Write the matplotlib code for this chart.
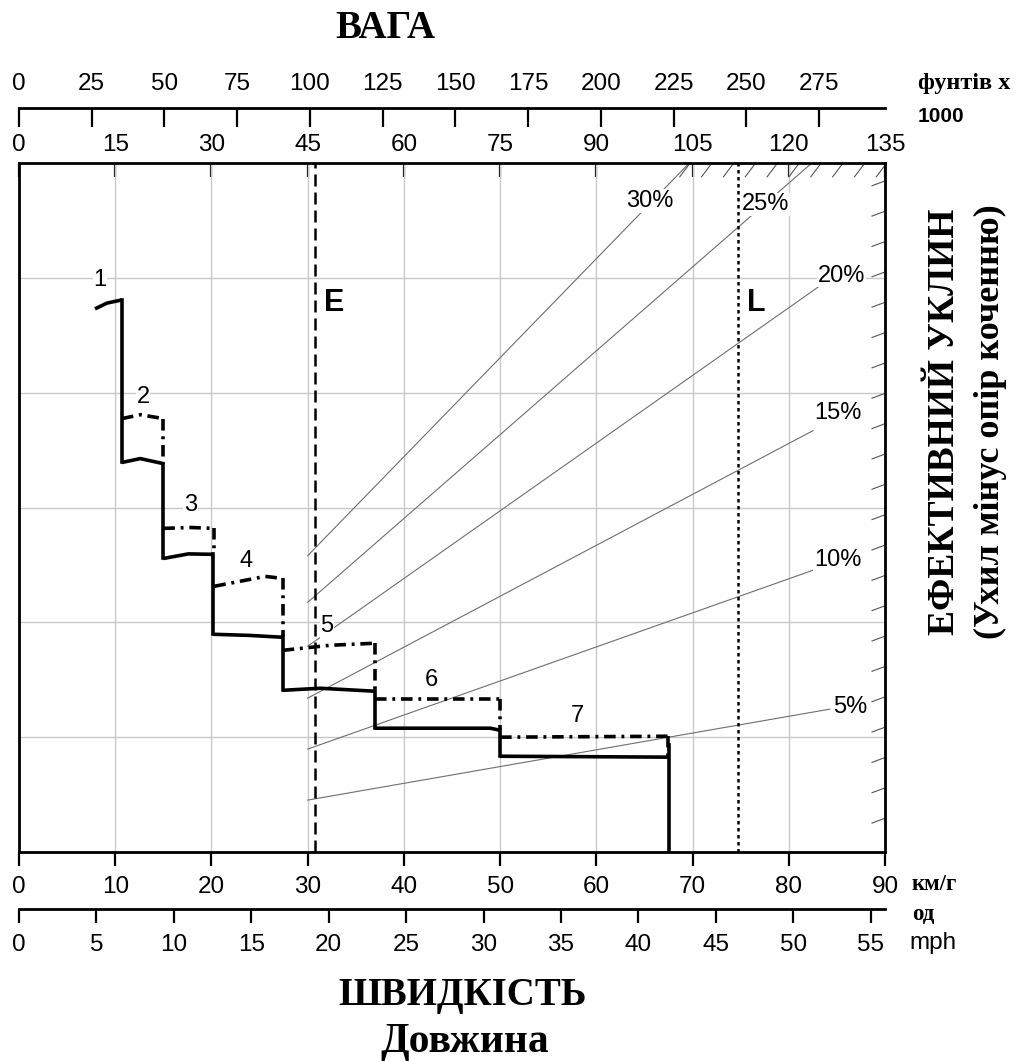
import numpy as np
import matplotlib.pyplot as plt

plt.rcParams['font.family'] = ['Liberation Sans', 'DejaVu Sans']

# scale conversions of the nomogram
KMH_PER_TONNE = 90 / 135
LB_PER_KG = 2.20462
KMH_PER_MPH = 1.609344

# gear curves: x in km/h, y = rimpull (tonnes)
gear_names = ['1', '2', '3', '4', '5', '6', '7']
solid_x = [[7.9, 9.15, 10.7], [10.7, 12.6, 15.0], [15.0, 17.6, 20.2], [20.2, 24.0, 27.4],
           [27.4, 31.3, 37.0], [37.0, 49.0, 50.0], [50.0, 59.0, 67.5]]
solid_y = [[23.65, 23.9, 24.04], [16.96, 17.13, 16.91], [12.78, 12.98, 12.96], [9.48, 9.43, 9.35],
           [7.04, 7.13, 7.0], [5.39, 5.39, 5.3], [4.17, 4.15, 4.13]]
dash_x = [None, [10.7, 12.6, 15.0], [15.0, 17.8, 20.3], [20.3, 23.5, 25.6, 27.4],
          [27.4, 32.3, 37.0], [37.0, 50.0], [50.0, 67.4]]
dash_y = [None, [18.87, 19.04, 18.87], [14.09, 14.13, 14.09], [11.57, 11.83, 12.0, 11.91],
          [8.78, 9.0, 9.09], [6.65, 6.65], [5.0, 5.04]]
gear_lx = [8.4, 12.9, 17.8, 23.6, 32.0, 42.9, 58.0]
gear_ly = [24.9, 19.8, 15.1, 12.65, 9.83, 7.48, 5.91]
last_drop_top = 4.65

# grade lines, weight in tonnes
grades = ['5%', '10%', '15%', '20%', '25%', '30%']
grade_w0 = [45, 45, 45, 45, 45, 45]
grade_w1 = [126.4, 124.6, 123.8, 125.3, 123.6, 104.5]
grade_y0 = [2.26, 4.48, 6.70, 8.96, 10.87, 12.9]
grade_y1 = [6.22, 12.35, 18.35, 24.74, 30.0, 30.0]
grade_lx = [86.4, 85.1, 85.1, 85.5, 77.6, 65.6]
grade_ly = [6.3, 12.7, 19.1, 25.1, 28.2, 28.35]

# E / L limits (km/h)
e_speed = 30.76
l_speed = 74.7

W, H = 1019, 1061
fig = plt.figure(figsize=(W / 100, H / 100), dpi=100)
L, R, T, B = 19, 885, 163, 852
ax = fig.add_axes([L / W, 1 - B / H, (R - L) / W, (B - T) / H])
ax.set_xlim(0, 90)
ax.set_ylim(0, 30)

ax.set_xticks(np.arange(0, 91, 10))
ax.set_yticks(np.arange(0, 31, 5))
ax.grid(True, color='#c8c8c8', lw=1.0, zorder=0)
ax.tick_params(axis='x', direction='out', length=10, width=1.6, labelsize=17.5, pad=7)
ax.tick_params(axis='y', length=0, labelleft=False)
for s in ax.spines.values():
    s.set_linewidth(2.0)

# top scales: tonnes on the frame, pounds above
sec_t = ax.secondary_xaxis('top', functions=(lambda x: x / KMH_PER_TONNE, lambda t: t * KMH_PER_TONNE))
sec_t.set_xticks(np.arange(0, 136, 15))
sec_t.tick_params(direction='in', length=10, width=1.6, labelsize=17.5, pad=5)

lb_loc = (B - 108) / (B - T)
sec_lb = ax.secondary_xaxis(lb_loc, functions=(lambda x: x / KMH_PER_TONNE * LB_PER_KG,
                                               lambda p: p / LB_PER_KG * KMH_PER_TONNE))
sec_lb.set_xticks(np.arange(0, 276, 25))
sec_lb.tick_params(direction='in', length=14, width=1.6, labelsize=17.5, pad=9)
for s in sec_lb.spines.values():
    s.set_linewidth(2.0)

mph_loc = -(909 - B) / (B - T)
sec_mph = ax.secondary_xaxis(mph_loc, functions=(lambda x: x / KMH_PER_MPH, lambda m: m * KMH_PER_MPH))
sec_mph.set_xticks(np.arange(0, 56, 5))
sec_mph.tick_params(direction='out', length=10, width=1.6, labelsize=17.5, pad=8)
for s in sec_mph.spines.values():
    s.set_linewidth(2.0)

# grade lines
for g, w0, w1, y0, y1, lx, ly in zip(grades, grade_w0, grade_w1, grade_y0, grade_y1, grade_lx, grade_ly):
    ax.plot([w0 * KMH_PER_TONNE, w1 * KMH_PER_TONNE], [y0, y1], color='#6e6e6e', lw=0.8, zorder=2)
    ax.text(lx, ly, g, fontsize=17, ha='center', va='center', zorder=4,
            bbox=dict(facecolor='white', edgecolor='none', pad=0.5))

# gear curves
dd = (0, (3.2, 1.6, 0.8, 1.6))
for i in range(len(gear_names)):
    ax.plot(solid_x[i], solid_y[i], color='black', lw=2.6, zorder=5, solid_capstyle='butt')
    if dash_x[i] is not None:
        ax.plot(dash_x[i], dash_y[i], color='black', lw=2.6, ls=dd, zorder=5)
        # dash-dot drop to the solid curve
        ax.plot([dash_x[i][-1], dash_x[i][-1]], [dash_y[i][-1], solid_y[i][-1]],
                color='black', lw=2.6, ls=dd, zorder=5)
    if i + 1 < len(gear_names):
        ax.plot([solid_x[i][-1], solid_x[i][-1]], [solid_y[i][-1], solid_y[i + 1][0]],
                color='black', lw=2.6, zorder=5)
    else:
        ax.plot([solid_x[i][-1], solid_x[i][-1]], [last_drop_top, 0], color='black', lw=2.6, zorder=5)
    ax.text(gear_lx[i], gear_ly[i], gear_names[i], fontsize=17, ha='center', va='center', zorder=4,
            bbox=dict(facecolor='white', edgecolor='none', pad=0.5))

# E and L limits
ax.axvline(e_speed, color='black', lw=1.8, ls=(0, (4.8, 2.4)), zorder=6)
ax.axvline(l_speed, color='black', lw=1.8, ls=(0, (1.4, 1.4)), zorder=6)
ax.text(e_speed + 0.9, 23.9, 'E', fontsize=22, fontweight='bold', ha='left', va='center')
ax.text(l_speed + 1.0, 23.9, 'L', fontsize=22, fontweight='bold', ha='left', va='center')

# hatched limit along top and right edge
for xa in np.linspace(0.763, 0.99, 10):
    ax.plot([xa, xa + 0.012], [0.98, 1.0], transform=ax.transAxes, color='#555555', lw=0.8, clip_on=False)
for ya in np.linspace(0.042, 0.967, 22):
    ax.plot([0.985, 1.0], [ya, ya + 0.007], transform=ax.transAxes, color='#555555', lw=0.8, clip_on=False)

# titles and unit labels
serif = ['Liberation Serif', 'DejaVu Serif']
fig.text(385 / W, 1 - 28 / H, 'ВАГА', family=serif, fontweight='bold', fontsize=28, ha='center', va='center')
fig.text(918 / W, 1 - 84 / H, 'фунтів x', family=serif, fontweight='bold', fontsize=17.5, ha='left', va='center')
fig.text(918 / W, 1 - 117 / H, '1000', fontweight='bold', fontsize=15, ha='left', va='center')
fig.text(912 / W, 1 - 885 / H, 'км/г', family=serif, fontweight='bold', fontsize=16.5, ha='left', va='center')
fig.text(912 / W, 1 - 914 / H, 'од', family=serif, fontweight='bold', fontsize=16.5, ha='left', va='center')
fig.text(909 / W, 1 - 943 / H, 'mph', fontsize=17.5, ha='left', va='center')
fig.text(463 / W, 1 - 995 / H, 'ШВИДКІСТЬ', family=serif, fontweight='bold', fontsize=28, ha='center', va='center')
fig.text(465 / W, 1 - 1042 / H, 'Довжина', family=serif, fontweight='bold', fontsize=30, ha='center', va='center')
fig.text(945 / W, 1 - 422 / H, 'ЕФЕКТИВНИЙ УКЛИН', family=serif, fontweight='bold', fontsize=27,
         rotation=90, ha='center', va='center')
fig.text(990 / W, 1 - 422 / H, '(Ухил мінус опір коченню)', family=serif, fontweight='bold', fontsize=26,
         rotation=90, ha='center', va='center')

fig.savefig('out.png', dpi=100)
